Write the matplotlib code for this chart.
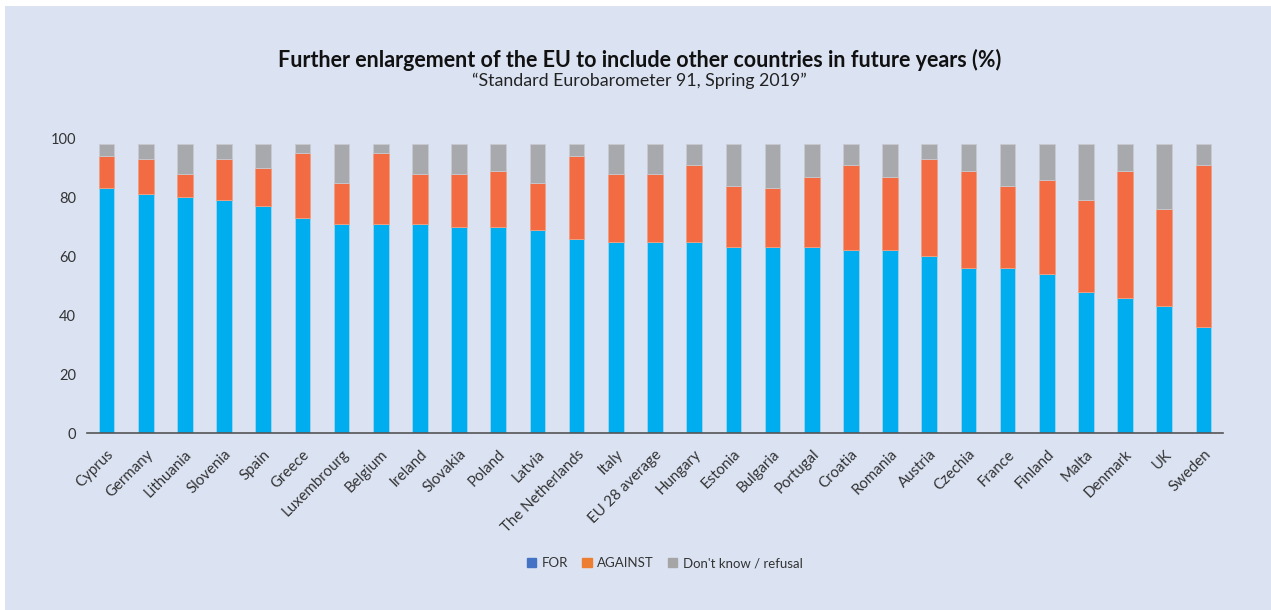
import matplotlib.pyplot as plt
import numpy as np
from matplotlib.patches import Patch, Rectangle

countries = ['Cyprus', 'Germany', 'Lithuania', 'Slovenia', 'Spain', 'Greece',
             'Luxembrourg', 'Belgium', 'Ireland', 'Slovakia', 'Poland', 'Latvia',
             'The Netherlands', 'Italy', 'EU 28 average', 'Hungary', 'Estonia',
             'Bulgaria', 'Portugal', 'Croatia', 'Romania', 'Austria', 'Czechia',
             'France', 'Finland', 'Malta', 'Denmark', 'UK', 'Sweden']
for_vals = [83, 81, 80, 79, 77, 73, 71, 71, 71, 70, 70, 69, 66, 65, 65, 65, 63,
            63, 63, 62, 62, 60, 56, 56, 54, 48, 46, 43, 36]
against_vals = [11, 12, 8, 14, 13, 22, 14, 24, 17, 18, 19, 16, 28, 23, 23, 26, 21,
                20, 24, 29, 25, 33, 33, 28, 32, 31, 43, 33, 55]
dk_vals = [4, 5, 10, 5, 8, 3, 13, 3, 10, 10, 9, 13, 4, 10, 10, 7, 14,
           15, 11, 7, 11, 5, 9, 14, 12, 19, 9, 22, 7]

bg = '#dbe3f3'
c_for, c_against, c_dk = '#00aeef', '#f26b43', '#a7a9ac'

plt.rcParams['font.family'] = ['Lato', 'DejaVu Sans']

fig = plt.figure(figsize=(12.71, 6.10), dpi=100)
fig.patch.set_facecolor('white')
fig.patches.append(Rectangle((5 / 1271, 0), 1, 1 - 6 / 610, transform=fig.transFigure,
                             facecolor=bg, edgecolor='none', zorder=-1))

ax = fig.add_axes([87 / 1271, (610 - 433.3) / 610, (1223 - 87) / 1271, 295 / 610])
ax.set_facecolor(bg)

x = np.arange(len(countries))
w = 0.4
ax.bar(x, for_vals, w, color=c_for, edgecolor='#9fd3f0', linewidth=0.6)
ax.bar(x, against_vals, w, bottom=for_vals, color=c_against, edgecolor='#f0a080', linewidth=0.6)
ax.bar(x, dk_vals, w, bottom=np.add(for_vals, against_vals), color=c_dk,
       edgecolor='#c8cad0', linewidth=0.6)

ax.set_xlim(-0.5, len(countries) - 0.5)
ax.set_ylim(0, 100)
ax.set_yticks(range(0, 101, 20))
ax.set_xticks(x)
ax.set_xticklabels(countries, rotation=45, ha='right', rotation_mode='anchor')
ax.tick_params(axis='y', length=0, labelsize=10.5, colors='#333333', pad=8)
ax.tick_params(axis='x', length=0, labelsize=10.8, colors='#333333', pad=10)
for s in ['top', 'right', 'left']:
    ax.spines[s].set_visible(False)
ax.spines['bottom'].set_color('#555555')
ax.spines['bottom'].set_linewidth(1.2)

fig.text(0.503, 1 - 60 / 610, 'Further enlargement of the EU to include other countries in future years (%)',
         ha='center', va='center', fontsize=15.5, fontweight='bold', color='#111111')
fig.text(0.503, 1 - 81 / 610, '\u201cStandard Eurobarometer 91, Spring 2019\u201d',
         ha='center', va='center', fontsize=12.8, color='#222222')

handles = [Patch(color='#4472c4', label='FOR'),
           Patch(color='#ed7d31', label='AGAINST'),
           Patch(color='#a5a5a5', label="Don't know / refusal")]
fig.legend(handles=handles, loc='center', bbox_to_anchor=(0.523, 1 - 563 / 610), ncol=3,
           frameon=False, fontsize=9.5, handlelength=0.7, handleheight=0.7,
           handletextpad=0.4, columnspacing=1.1, labelcolor='#333333')

fig.savefig('out.png', dpi=100, facecolor=fig.get_facecolor())
